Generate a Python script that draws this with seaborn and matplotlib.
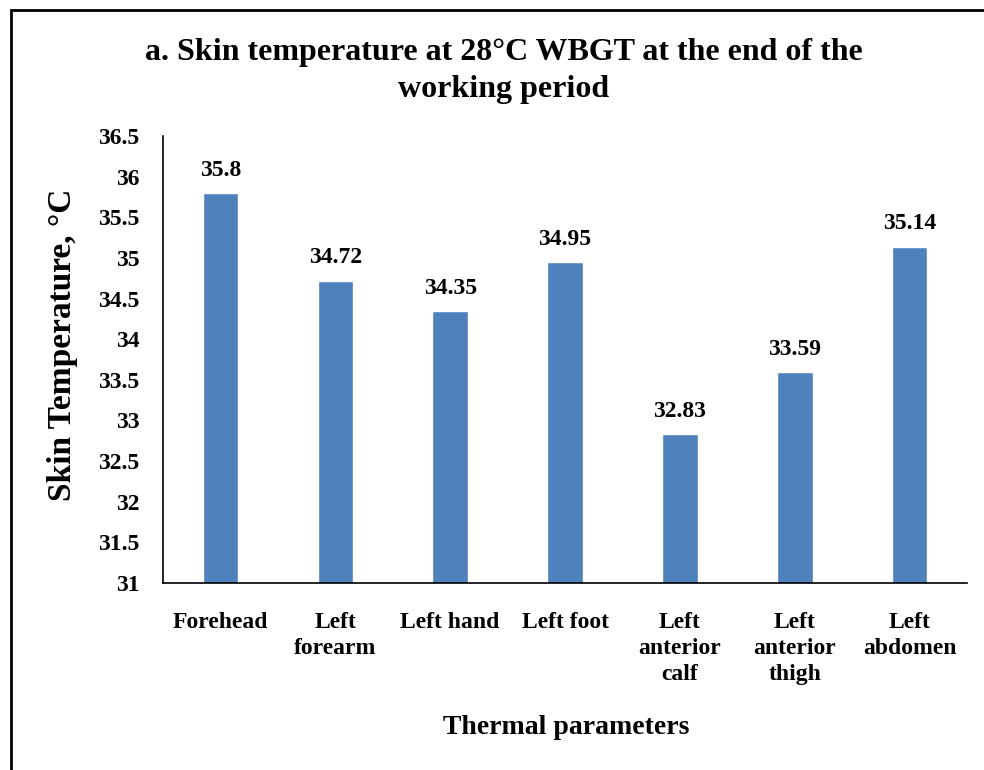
import matplotlib
matplotlib.use("Agg")
import matplotlib.pyplot as plt
import pandas as pd
import seaborn as sns
from matplotlib.patches import Rectangle

# Datos
sitios = ["Forehead", "Left\nforearm", "Left hand", "Left foot",
          "Left\nanterior\ncalf", "Left\nanterior\nthigh", "Left\nabdomen"]
temperaturas = [35.8, 34.72, 34.35, 34.95, 32.83, 33.59, 35.14]
etiquetas = ["35.8", "34.72", "34.35", "34.95", "32.83", "33.59", "35.14"]
ticks_y = [31, 31.5, 32, 32.5, 33, 33.5, 34, 34.5, 35, 35.5, 36, 36.5]

df = pd.DataFrame({"sitio": sitios, "temp": temperaturas})

sns.set_theme(style="white")
plt.rcParams['font.family'] = ['Liberation Serif', 'DejaVu Serif']
plt.rcParams['font.weight'] = 'bold'
plt.rcParams['text.color'] = 'black'
plt.rcParams['xtick.color'] = 'black'
plt.rcParams['ytick.color'] = 'black'

fig = plt.figure(figsize=(9.84, 7.7), dpi=100)
ax = fig.add_axes([0.1657, 0.2429, 0.8170, 0.5805])

sns.barplot(data=df, x="sitio", y="temp", color="#4F81BD", width=0.31,
            saturation=1, ax=ax)

ax.set_ylim(31, 36.5)
ax.set_yticks(ticks_y)
ax.set_yticklabels([f"{t:g}" for t in ticks_y], fontsize=17, fontweight='bold')
ax.set_xticks(range(len(sitios)))
ax.set_xticklabels(sitios, fontsize=17, fontweight='bold', linespacing=1.3, va='top')
ax.tick_params(axis='y', length=0, pad=17)
ax.tick_params(axis='x', length=0, pad=21)

for i, (v, e) in enumerate(zip(temperaturas, etiquetas)):
    ax.text(i, v + 0.15, e, ha='center', va='bottom', fontsize=17, fontweight='bold')

sns.despine(ax=ax)
for s in ["left", "bottom"]:
    ax.spines[s].set_color("black")
    ax.spines[s].set_linewidth(1.2)

ax.set_xlabel("")
ax.set_ylabel("")
fig.text(63 / 984, 1 - 345 / 770, "Skin Temperature, °C", rotation=90,
         ha='center', va='center', fontsize=24, fontweight='bold')
fig.text(566 / 984, 1 - 727 / 770, "Thermal parameters",
         ha='center', va='center', fontsize=20, fontweight='bold')
fig.text(504 / 984, 1 - 71 / 770,
         "a. Skin temperature at 28°C WBGT at the end of the\nworking period",
         ha='center', va='center', fontsize=23, fontweight='bold', linespacing=1.4)

# marco de la figura (solo se ven lados izquierdo y superior)
fig.patches.append(Rectangle((11 / 984, -0.1), 1.2, 1 - 10 / 770 + 0.1,
                             transform=fig.transFigure, fill=False,
                             edgecolor='black', linewidth=2))

fig.savefig("out.png", dpi=100)
